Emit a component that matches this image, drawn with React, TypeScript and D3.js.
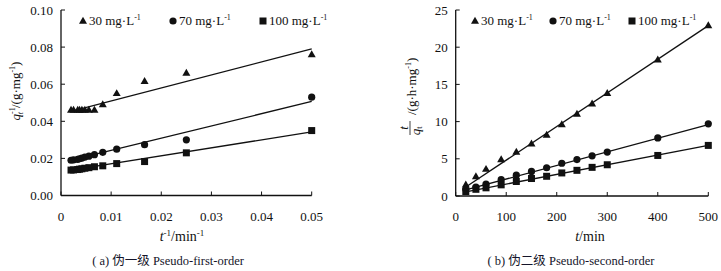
import React from "react";
import * as d3 from "d3";

// ---------- data ----------
const invTime = [0.05, 0.025, 0.01667, 0.01111, 0.00833, 0.00667, 0.00556, 0.00476, 0.00417, 0.0037, 0.00333, 0.0025, 0.002];
const timeMin = [20, 40, 60, 90, 120, 150, 180, 210, 240, 270, 300, 400, 500];
const seriesLabels = ["30 mg·L", "70 mg·L", "100 mg·L"];
const seriesShapes = ["triangle", "circle", "square"];

const pfo30 = [0.076, 0.066, 0.0615, 0.055, 0.049, 0.046, 0.046, 0.046, 0.046, 0.046, 0.046, 0.046, 0.046];
const pfo70 = [0.053, 0.030, 0.0274, 0.025, 0.0233, 0.022, 0.0212, 0.0207, 0.0202, 0.0198, 0.0195, 0.0192, 0.019];
const pfo100 = [0.035, 0.023, 0.0183, 0.0172, 0.016, 0.0155, 0.015, 0.0147, 0.0144, 0.0142, 0.014, 0.0138, 0.0137];
const pfoSlope = [0.70, 0.66, 0.43];
const pfoIntercept = [0.044, 0.0177, 0.0128];

const pso30 = [1.5, 2.6, 3.6, 4.9, 5.9, 7.0, 8.2, 9.6, 11.0, 12.4, 13.8, 18.3, 22.9];
const pso70 = [0.9, 1.2, 1.6, 2.2, 2.8, 3.3, 3.8, 4.4, 4.9, 5.4, 5.9, 7.8, 9.7];
const pso100 = [0.6, 0.9, 1.1, 1.5, 1.95, 2.35, 2.65, 3.1, 3.45, 3.85, 4.2, 5.45, 6.8];
const psoSlope = [0.0452, 0.0183, 0.013];
const psoIntercept = [0.3, 0.45, 0.3];

const pfoXTicks = [0, 0.01, 0.02, 0.03, 0.04, 0.05];
const pfoYTicks = [0, 0.02, 0.04, 0.06, 0.08, 0.1];
const psoXTicks = [0, 100, 200, 300, 400, 500];
const psoYTicks = [0, 5, 10, 15, 20, 25];

const FONT = "'Liberation Serif', 'DejaVu Serif', 'Noto Sans CJK SC', serif";
const INK = "#111";

function Marker({ shape, x, y }: { shape: string; x: number; y: number }) {
  if (shape === "triangle") {
    const s = 8;
    const h = s * 0.87;
    return <path d={`M${x},${y - h * 0.62}L${x + s / 2},${y + h * 0.38}L${x - s / 2},${y + h * 0.38}Z`} fill={INK} />;
  }
  if (shape === "circle") return <circle cx={x} cy={y} r={3.6} fill={INK} />;
  return <rect x={x - 3.5} y={y - 3.5} width={7} height={7} fill={INK} />;
}

function Panel(props: {
  xDomain: [number, number];
  yDomain: [number, number];
  xRange: [number, number];
  yRange: [number, number];
  xTicks: number[];
  yTicks: number[];
  xFmt: (v: number) => string;
  yFmt: (v: number) => string;
  xs: number[];
  series: number[][];
  slopes: number[];
  intercepts: number[];
  fitX: [number, number];
  legendX: number[];
}) {
  const x = d3.scaleLinear().domain(props.xDomain).range(props.xRange);
  const y = d3.scaleLinear().domain(props.yDomain).range(props.yRange);
  const [x0, x1] = props.xRange;
  const [y0, y1] = props.yRange;
  return (
    <g>
      {props.slopes.map((s, i) => {
        const pts: [number, number][] = props.fitX.map((v) => [x(v), y(props.intercepts[i] + s * v)]);
        return <path key={"f" + i} d={d3.line()(pts) || ""} stroke={INK} strokeWidth={1.3} fill="none" />;
      })}
      {props.series.map((ser, si) =>
        ser.map((v, i) => <Marker key={si + "-" + i} shape={seriesShapes[si]} x={x(props.xs[i])} y={y(v)} />)
      )}
      <line x1={x0} x2={x1} y1={y0} y2={y0} stroke={INK} strokeWidth={1.3} />
      <line x1={x0} x2={x0} y1={y0} y2={y1} stroke={INK} strokeWidth={1.3} />
      {props.xTicks.map((t) => (
        <g key={"xt" + t}>
          <line x1={x(t)} x2={x(t)} y1={y0} y2={y0 - 4} stroke={INK} strokeWidth={1} />
          <text x={x(t)} y={220.5} textAnchor="middle" fontSize={13} fill={INK}>
            {props.xFmt(t)}
          </text>
        </g>
      ))}
      {props.yTicks.map((t) => (
        <g key={"yt" + t}>
          <line x1={x0} x2={x0 + 4} y1={y(t)} y2={y(t)} stroke={INK} strokeWidth={1} />
          <text x={x0 - 8} y={y(t) + 4.5} textAnchor="end" fontSize={13} fill={INK}>
            {props.yFmt(t)}
          </text>
        </g>
      ))}
      {seriesLabels.map((lab, i) => (
        <g key={"lg" + i}>
          <Marker shape={seriesShapes[i]} x={props.legendX[i]} y={21} />
          <text x={props.legendX[i] + 6} y={25} fontSize={13} fill={INK}>
            {lab}
            <tspan dy={-5} fontSize={8}>-1</tspan>
          </text>
        </g>
      ))}
    </g>
  );
}

export default function App() {
  const f2 = d3.format(".2f");
  return (
    <svg
      width={721}
      height={271}
      style={{ position: "absolute", left: 0, top: 0, background: "#fff", fontFamily: FONT }}
      fontFamily={FONT}
    >
      <rect width={721} height={271} fill="#fff" />
      <Panel
        xDomain={[0, 0.05]}
        yDomain={[0, 0.1]}
        xRange={[61, 311.7]}
        yRange={[195.5, 10]}
        xTicks={pfoXTicks}
        yTicks={pfoYTicks}
        xFmt={(v) => (v === 0 ? "0" : String(+v.toFixed(2)))}
        yFmt={(v) => f2(v)}
        xs={invTime}
        series={[pfo30, pfo70, pfo100]}
        slopes={pfoSlope}
        intercepts={pfoIntercept}
        fitX={[0.002, 0.05]}
        legendX={[83, 173, 263]}
      />
      <Panel
        xDomain={[0, 500]}
        yDomain={[0, 25]}
        xRange={[455.7, 708.3]}
        yRange={[196, 10]}
        xTicks={psoXTicks}
        yTicks={psoYTicks}
        xFmt={(v) => String(v)}
        yFmt={(v) => String(v)}
        xs={timeMin}
        series={[pso30, pso70, pso100]}
        slopes={psoSlope}
        intercepts={psoIntercept}
        fitX={[20, 500]}
        legendX={[475, 553, 632]}
      />
      <g transform="translate(20,91) rotate(-90)">
        <text textAnchor="middle" fontSize={13} fill={INK}>
          <tspan fontStyle="italic">q</tspan>
          <tspan fontSize={8} dy={-5}>-1</tspan>
          <tspan fontSize={8} fontStyle="italic" dx={-7} dy={8}>t</tspan>
          <tspan dy={-3} dx={4}>/(g·mg</tspan>
          <tspan fontSize={8} dy={-5}>-1</tspan>
          <tspan dy={5}>)</tspan>
        </text>
      </g>
      <g transform="translate(410,98) rotate(-90)">
        <text x={-30} y={-2} textAnchor="middle" fontSize={13} fontStyle="italic" fill={INK}>t</text>
        <line x1={-37} x2={-23} y1={0} y2={0} stroke={INK} strokeWidth={0.8} />
        <text x={-33} y={9.5} textAnchor="middle" fontSize={13} fill={INK}>
          <tspan fontStyle="italic">q</tspan>
          <tspan fontSize={8} dy={2}>t</tspan>
        </text>
        <text x={-17} y={6} fontSize={13} fill={INK}>
          /(g·h·mg
          <tspan fontSize={8} dy={-5}>-1</tspan>
          <tspan dy={5}>)</tspan>
        </text>
      </g>
      <text x={182} y={241} textAnchor="middle" fontSize={14} fill={INK}>
        <tspan fontStyle="italic">t</tspan>
        <tspan fontSize={9} dy={-5}>-1</tspan>
        <tspan dy={5}>/min</tspan>
        <tspan fontSize={9} dy={-5}>-1</tspan>
      </text>
      <text x={590} y={241} textAnchor="middle" fontSize={14} fill={INK}>
        <tspan fontStyle="italic">t</tspan>/min
      </text>
      <text x={168} y={265} textAnchor="middle" fontSize={12.5} fill="#15152a">
        ( a) 伪一级 Pseudo-first-order
      </text>
      <text x={571} y={265} textAnchor="middle" fontSize={12.5} fill="#15152a">
        ( b) 伪二级 Pseudo-second-order
      </text>
    </svg>
  );
}
